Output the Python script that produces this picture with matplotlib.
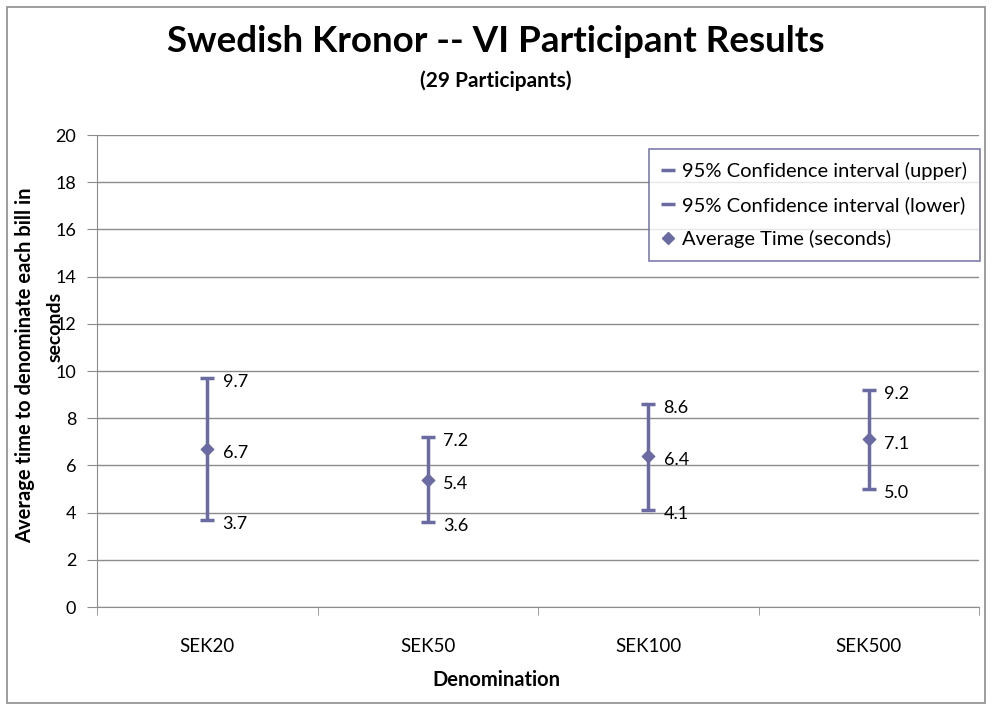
import matplotlib

matplotlib.use("Agg")
import matplotlib.pyplot as plt
from matplotlib.lines import Line2D
from matplotlib.patches import Rectangle


# ===== 数据 =====
denominations = ["SEK20", "SEK50", "SEK100", "SEK500"]
ci_upper = [9.7, 7.2, 8.6, 9.2]
ci_lower = [3.7, 3.6, 4.1, 5.0]
average_time = [6.7, 5.4, 6.4, 7.1]
y_ticks = [0, 2, 4, 6, 8, 10, 12, 14, 16, 18, 20]

SERIES_COLOR = "#6B6BA3"
GRID_COLOR = "#8C8C8C"
FONT = ["Lato", "DejaVu Sans"]

plt.rcParams["font.family"] = FONT

fig = plt.figure(figsize=(9.92, 7.11), dpi=100)
ax = fig.add_axes([97 / 992, 1 - 607 / 711, 882 / 992, 472 / 711])

x = list(range(len(denominations)))

# 高低线 + 上下限短横线 + 平均值菱形
ax.vlines(x, ci_lower, ci_upper, color=SERIES_COLOR, linewidth=2.5, zorder=3)
ax.scatter(x, ci_upper, marker="_", s=110, linewidths=2.5, color=SERIES_COLOR, zorder=4)
ax.scatter(x, ci_lower, marker="_", s=110, linewidths=2.5, color=SERIES_COLOR, zorder=4)
ax.scatter(x, average_time, marker="D", s=40, color=SERIES_COLOR, zorder=5)

for series in (ci_upper, average_time, ci_lower):
    for xi, value in zip(x, series):
        ax.annotate(
            f"{value:.1f}",
            (xi, value),
            xytext=(11, -3),
            textcoords="offset points",
            ha="left",
            va="center",
            fontsize=13,
            color="black",
        )

ax.set_xlim(-0.5, len(denominations) - 0.5)
ax.set_ylim(0, 20)
ax.set_yticks(y_ticks)
ax.set_yticklabels([str(t) for t in y_ticks], fontsize=13)
ax.set_xticks(x)
ax.set_xticklabels(denominations, fontsize=13.5)
ax.set_xticks([i - 0.5 for i in range(len(denominations) + 1)], minor=True)
ax.tick_params(axis="x", which="major", length=0, pad=22)
ax.tick_params(axis="x", which="minor", length=6, color=GRID_COLOR, direction="out")
ax.tick_params(axis="y", length=7, color=GRID_COLOR, direction="out", pad=8)

ax.grid(axis="y", color=GRID_COLOR, linewidth=1)
ax.set_axisbelow(True)
for side in ("top", "right"):
    ax.spines[side].set_visible(False)
for side in ("left", "bottom"):
    ax.spines[side].set_color(GRID_COLOR)

# 标题、副标题、坐标轴标题
fig.text(0.5, 1 - 42 / 711, "Swedish Kronor -- VI Participant Results",
         ha="center", va="center", fontsize=26.5, fontweight="bold")
fig.text(0.5, 1 - 81 / 711, "(29 Participants)",
         ha="center", va="center", fontsize=15, fontweight="bold")
fig.text(0.5, 1 - 680 / 711, "Denomination",
         ha="center", va="center", fontsize=14.5, fontweight="bold")
fig.text(25 / 992, 1 - 365 / 711, "Average time to denominate each bill in",
         ha="center", va="center", rotation=90, fontsize=14.5, fontweight="bold")
fig.text(55 / 992, 1 - 327 / 711, "seconds",
         ha="center", va="center", rotation=90, fontsize=14, fontweight="bold")

# 图例
handles = [
    Line2D([], [], linestyle="none", marker="_", markersize=10,
           markeredgewidth=2.5, color=SERIES_COLOR),
    Line2D([], [], linestyle="none", marker="_", markersize=10,
           markeredgewidth=2.5, color=SERIES_COLOR),
    Line2D([], [], linestyle="none", marker="D", markersize=6, color=SERIES_COLOR),
]
labels = [
    "95% Confidence interval (upper)",
    "95% Confidence interval (lower)",
    "Average Time (seconds)",
]
legend = fig.legend(
    handles,
    labels,
    loc="upper right",
    bbox_to_anchor=(980 / 992, 1 - 149 / 711),
    frameon=True,
    fancybox=False,
    fontsize=14.5,
    handlelength=0.6,
    handletextpad=0.4,
    labelspacing=0.8,
    borderpad=0.65,
    borderaxespad=0,
)
legend.get_frame().set_edgecolor("#5C5C99")
legend.get_frame().set_linewidth(1.2)

# 外框
fig.patches.append(
    Rectangle((7 / 992, 8 / 711), 978 / 992, 696 / 711, transform=fig.transFigure,
              fill=False, edgecolor=GRID_COLOR, linewidth=1.2)
)

fig.savefig("out.png", dpi=100)
plt.close(fig)
